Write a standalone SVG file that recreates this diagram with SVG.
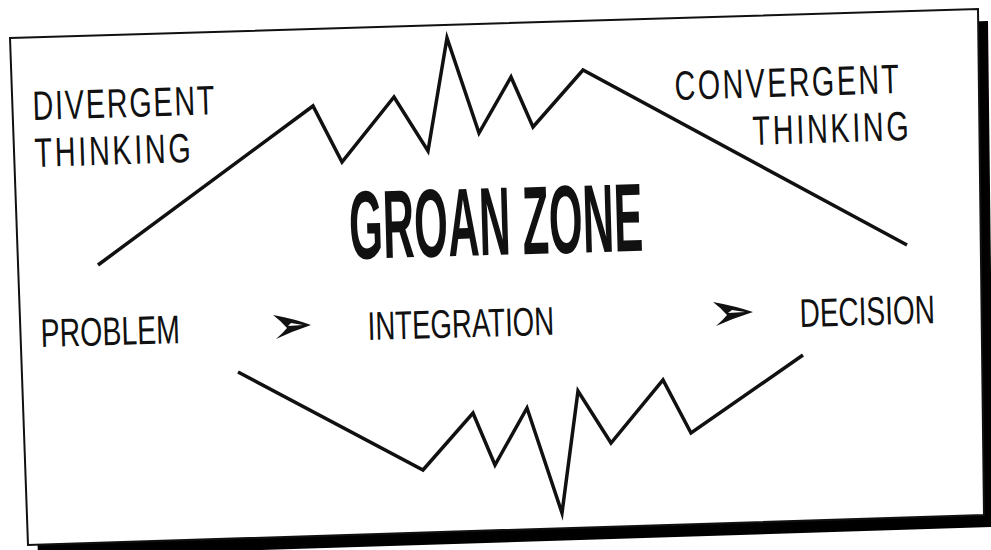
<svg xmlns="http://www.w3.org/2000/svg" width="991" height="550" viewBox="0 0 991 550">
  <style>
    .lbl { font-family: "Liberation Sans", Arial, sans-serif; font-size: 41px; fill: #111; }
    .lbl2 { font-family: "Liberation Sans", Arial, sans-serif; font-size: 40px; fill: #111; }
    .title { font-family: "Liberation Sans", Arial, sans-serif; font-size: 97px; font-weight: bold; fill: #111; }
    .zig { fill: none; stroke: #111; stroke-width: 3.5; stroke-linejoin: miter; stroke-miterlimit: 12; stroke-linecap: butt; }
    .arrow { fill: #111; }
    .hl { fill: #fff; }
  </style>
  <rect x="0" y="0" width="991" height="550" fill="#fff"/>
  <g id="frame">
    <polygon points="20,50 988,21 994,527 38,557" fill="#000"/>
    <polygon points="10,38 978,9 984,515 28,545" fill="#fff" stroke="#111" stroke-width="2"/>
  </g>
  <g id="connectors">
    <polyline class="zig" points="98,265 313,106 342,162 394,97 428,151 447,38 479,133 511,77 533,127 583,70 907,245"/>
    <polyline class="zig" points="238,372 423,470 473,413 495,465 527,408 562,513 578,391 611,443 663,380 691,433 803,355"/>
    <g id="arrow1">
      <path class="arrow" d="M273,315 Q295,319 311,325 Q293,331 276,339 Q283,333 287,328 Q281,321 273,315 Z"/>
      <path class="hl" d="M288,326 L303,325 L291,323 Z"/>
    </g>
    <g id="arrow2">
      <path class="arrow" d="M713,302 Q735,306 753,312 Q734,318 716,326 Q723,320 727,315 Q721,308 713,302 Z"/>
      <path class="hl" d="M728,313 L745,312 L732,310 Z"/>
    </g>
  </g>
  <g id="divergent">
    <text class="lbl" x="0" y="0" letter-spacing="2.6" transform="translate(33,120) rotate(-1.8) scale(0.7,1)">DIVERGENT</text>
    <text class="lbl" x="0" y="0" letter-spacing="3.9" transform="translate(35,167) rotate(-1.8) scale(0.7,1)">THINKING</text>
  </g>
  <g id="convergent">
    <text class="lbl" x="0" y="0" letter-spacing="3.5" transform="translate(675,100) rotate(-1.8) scale(0.7,1)">CONVERGENT</text>
    <text class="lbl" x="0" y="0" letter-spacing="3.9" transform="translate(753,145) rotate(-1.8) scale(0.7,1)">THINKING</text>
  </g>
  <g id="groan-zone">
    <text class="title" x="0" y="0" transform="translate(350,259) rotate(-1.6) scale(0.447,1)">GROAN ZONE</text>
  </g>
  <g id="problem">
    <text class="lbl2" x="0" y="0" transform="translate(41,347) rotate(-1.6) scale(0.712,1)">PROBLEM</text>
  </g>
  <g id="integration">
    <text class="lbl2" x="0" y="0" transform="translate(368,340) rotate(-1.6) scale(0.69,1)">INTEGRATION</text>
  </g>
  <g id="decision">
    <text class="lbl2" x="0" y="0" transform="translate(800,327) rotate(-1.6) scale(0.70,1)">DECISION</text>
  </g>
</svg>
